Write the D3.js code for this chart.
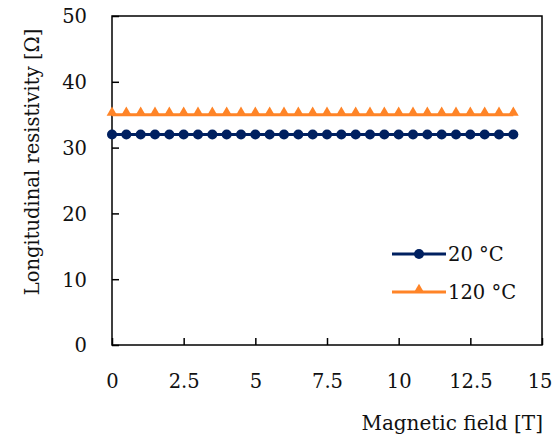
<!DOCTYPE html>
<html>
<head>
<meta charset="utf-8">
<script src="https://cdn.jsdelivr.net/npm/d3@7"></script>
<style>
  html, body { margin: 0; padding: 0; background: #fff; }
  svg text { font-family: "DejaVu Serif", "Liberation Serif", serif; fill: #111; }
</style>
</head>
<body>
<svg id="chart" width="553" height="445"></svg>
<script>
// Magnetic field sweep (T) and measured longitudinal resistivity (Ω)
const field = [0, 0.5, 1, 1.5, 2, 2.5, 3, 3.5, 4, 4.5, 5, 5.5, 6, 6.5, 7, 7.5, 8, 8.5, 9, 9.5, 10, 10.5, 11, 11.5, 12, 12.5, 13, 13.5, 14];
const rho20 = [32, 32, 32, 32, 32, 32, 32, 32, 32, 32, 32, 32, 32, 32, 32, 32, 32, 32, 32, 32, 32, 32, 32, 32, 32, 32, 32, 32, 32];
const rho120 = [35, 35, 35, 35, 35, 35, 35, 35, 35, 35, 35, 35, 35, 35, 35, 35, 35, 35, 35, 35, 35, 35, 35, 35, 35, 35, 35, 35, 35];
const xTicks = [0, 2.5, 5, 7.5, 10, 12.5, 15];
const yTicks = [0, 10, 20, 30, 40, 50];
const seriesNames = ["20 °C", "120 °C"];
const seriesColors = ["#002060", "#FF8427"];

const svg = d3.select("#chart");
const plot = { left: 112, right: 542, top: 16, bottom: 345 };
const fontSize = 19.5;

const x = d3.scaleLinear().domain([0, 15]).range([plot.left, plot.right]);
const y = d3.scaleLinear().domain([0, 50]).range([plot.bottom, plot.top]);

// frame
svg.append("rect")
  .attr("x", plot.left).attr("y", plot.top)
  .attr("width", plot.right - plot.left).attr("height", plot.bottom - plot.top)
  .attr("fill", "none").attr("stroke", "#000").attr("stroke-width", 1.5);

// x axis: inward ticks, labels further down
const xAxis = svg.append("g").attr("transform", `translate(0,${plot.bottom})`)
  .call(d3.axisTop(x).tickValues(xTicks).tickSize(7).tickFormat(d3.format("~g")));
xAxis.select(".domain").remove();
xAxis.selectAll(".tick line").attr("stroke", "#000").attr("stroke-width", 1.5);
xAxis.selectAll(".tick text")
  .attr("y", 43).attr("dy", 0)
  .attr("font-size", fontSize).attr("fill", "#111");
// keep the last label inside the canvas
xAxis.selectAll(".tick text").filter(d => d === xTicks[xTicks.length - 1])
  .attr("text-anchor", "end").attr("x", 552 - x(xTicks[xTicks.length - 1]));

// y axis: inward ticks
const yAxis = svg.append("g").attr("transform", `translate(${plot.left},0)`)
  .call(d3.axisRight(y).tickValues(yTicks).tickSize(7));
yAxis.select(".domain").remove();
yAxis.selectAll(".tick line").attr("stroke", "#000").attr("stroke-width", 1.5);
yAxis.selectAll(".tick text")
  .attr("x", -25).attr("text-anchor", "end").attr("dy", "0.35em")
  .attr("font-size", fontSize).attr("fill", "#111");

svg.selectAll(".tick text").style("font-family", '"DejaVu Serif", serif');

// axis titles
svg.append("text")
  .attr("x", 543).attr("y", 430).attr("text-anchor", "end")
  .attr("font-size", 20).text("Magnetic field [T]");
svg.append("text")
  .attr("transform", "translate(39,162) rotate(-90)")
  .attr("text-anchor", "middle").attr("font-size", fontSize)
  .text("Longitudinal resistivity [Ω]");

const line = d3.line().x(d => x(d[0])).y(d => y(d[1]));
const tri = d3.symbol().type(d3.symbolTriangle).size(50);

function drawSeries(values, color, marker) {
  const pts = field.map((f, i) => [f, values[i]]);
  const g = svg.append("g");
  g.append("path").datum(pts).attr("d", line)
    .attr("fill", "none").attr("stroke", color).attr("stroke-width", 3);
  if (marker === "circle") {
    g.selectAll("circle").data(pts).join("circle")
      .attr("cx", d => x(d[0])).attr("cy", d => y(d[1])).attr("r", 5)
      .attr("fill", color);
  } else {
    g.selectAll("path.m").data(pts).join("path").attr("class", "m")
      .attr("d", tri)
      .attr("transform", d => `translate(${x(d[0])},${y(d[1]) - 2})`)
      .attr("fill", color);
  }
}

drawSeries(rho20, seriesColors[0], "circle");
drawSeries(rho120, seriesColors[1], "triangle");

// legend
const legend = svg.append("g");
const legendRows = [
  { name: seriesNames[0], color: seriesColors[0], marker: "circle", yPos: 254 },
  { name: seriesNames[1], color: seriesColors[1], marker: "triangle", yPos: 292 }
];
legendRows.forEach(r => {
  legend.append("line").attr("x1", 392).attr("x2", 446)
    .attr("y1", r.yPos).attr("y2", r.yPos)
    .attr("stroke", r.color).attr("stroke-width", 3);
  if (r.marker === "circle") {
    legend.append("circle").attr("cx", 419).attr("cy", r.yPos).attr("r", 5).attr("fill", r.color);
  } else {
    legend.append("path").attr("d", tri)
      .attr("transform", `translate(419,${r.yPos - 2})`).attr("fill", r.color);
  }
  legend.append("text").attr("x", 448).attr("y", r.yPos).attr("dy", "0.35em")
    .attr("font-size", fontSize).text(r.name);
});
</script>
</body>
</html>
